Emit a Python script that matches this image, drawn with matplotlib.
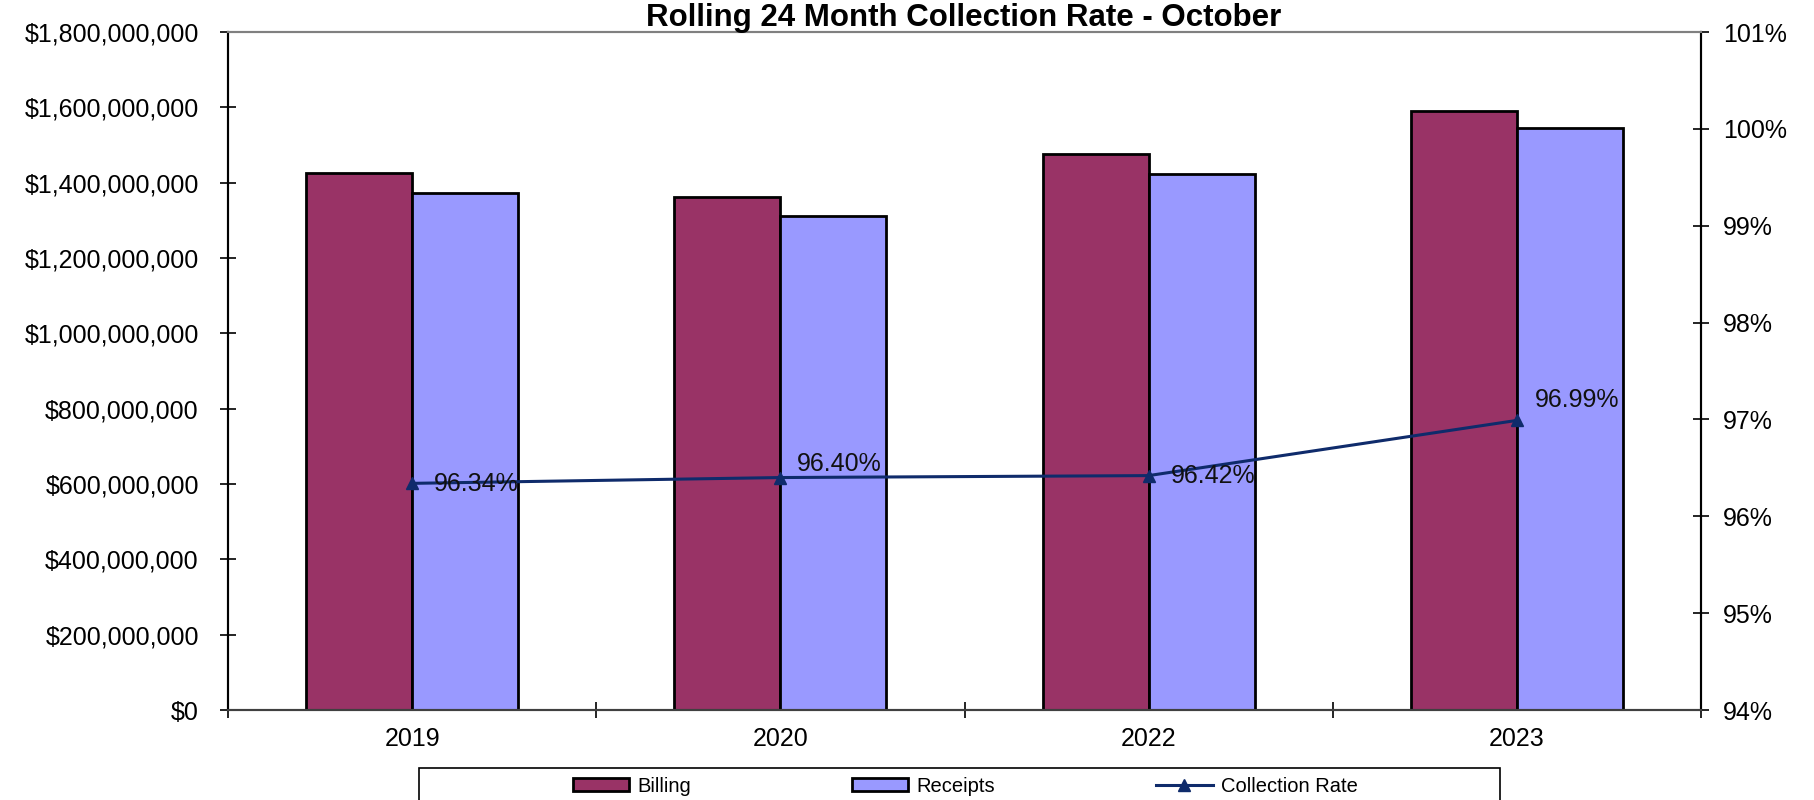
import matplotlib.pyplot as plt
from matplotlib.patches import Rectangle
from matplotlib.ticker import FuncFormatter, FixedLocator

years = ['2019', '2020', '2022', '2023']
billing = [1.425e9, 1.361e9, 1.477e9, 1.591e9]
receipts = [1.373e9, 1.311e9, 1.422e9, 1.545e9]
rate = [96.34, 96.40, 96.42, 96.99]
rate_labels = ['96.34%', '96.40%', '96.42%', '96.99%']
label_offsets = [(22, -1), (16, 14), (22, 0), (18, 20)]

plt.rcParams['font.family'] = ['Liberation Sans', 'DejaVu Sans']

fig = plt.figure(figsize=(18.14, 8.0), dpi=100)
ax1 = fig.add_axes([228 / 1814, 1 - 710 / 800, (1701 - 228) / 1814, (710 - 32) / 800])

x = list(range(len(years)))
w = 0.288
ax1.bar([i - w / 2 for i in x], billing, width=w, color='#993366',
        edgecolor='black', linewidth=2, label='Billing', zorder=2)
ax1.bar([i + w / 2 for i in x], receipts, width=w, color='#9999FF',
        edgecolor='black', linewidth=2, label='Receipts', zorder=2)

ax1.set_xlim(-0.5, len(years) - 0.5)
ax1.set_ylim(0, 1.8e9)
ax1.set_yticks([i * 2e8 for i in range(10)])
ax1.yaxis.set_major_formatter(FuncFormatter(lambda v, p: f'${v:,.0f}'))
ax1.tick_params(axis='y', direction='inout', length=12, width=1.2, pad=15, labelsize=18)

ax1.set_xticks(x)
ax1.set_xticklabels(years)
ax1.tick_params(axis='x', which='major', length=0, pad=12, labelsize=18)
ax1.xaxis.set_minor_locator(FixedLocator([i + 0.5 for i in range(-1, len(years))]))
ax1.tick_params(axis='x', which='minor', direction='inout', length=12, width=1.2)

ax2 = ax1.twinx()
ax2.plot(x, rate, color='#0f2b6b', linewidth=2.2, marker='^', markersize=9,
         label='Collection Rate', zorder=3)
ax2.set_ylim(94, 101)
ax2.set_yticks(range(94, 102))
ax2.yaxis.set_major_formatter(FuncFormatter(lambda v, p: f'{v:.0f}%'))
ax2.tick_params(axis='y', direction='inout', length=12, width=1.2, pad=10, labelsize=18)

for xi, r, lab, off in zip(x, rate, rate_labels, label_offsets):
    ax2.annotate(lab, (xi, r), xytext=off, textcoords='offset pixels',
                 ha='left', va='center', fontsize=18, color='#111111')

for ax in (ax1, ax2):
    ax.spines['top'].set_color('#808080')
    ax.spines['top'].set_linewidth(1.5)
    ax.spines['left'].set_linewidth(1.5)
    ax.spines['right'].set_linewidth(1.5)
    ax.spines['bottom'].set_color('#404040')
    ax.spines['bottom'].set_linewidth(1.5)

fig.text(964 / 1814, 1 - 18 / 800, 'Rolling 24 Month Collection Rate - October',
         ha='center', va='center', fontsize=22.5, fontweight='bold')

# legend box running off the bottom edge
fig.patches.append(Rectangle((419 / 1814, 1 - 806 / 800), (1500 - 419) / 1814, 38 / 800,
                             transform=fig.transFigure, facecolor='white',
                             edgecolor='black', linewidth=1.2))
h1, l1 = ax1.get_legend_handles_labels()
h2, l2 = ax2.get_legend_handles_labels()
fig.legend(h1 + h2, l1 + l2, loc='center', bbox_to_anchor=(0.532, 1 - 786 / 800),
           ncol=3, frameon=False, fontsize=14.5, handlelength=2.8, handleheight=0.6,
           handletextpad=0.4, columnspacing=8.0)

fig.savefig('out.png', dpi=100)
